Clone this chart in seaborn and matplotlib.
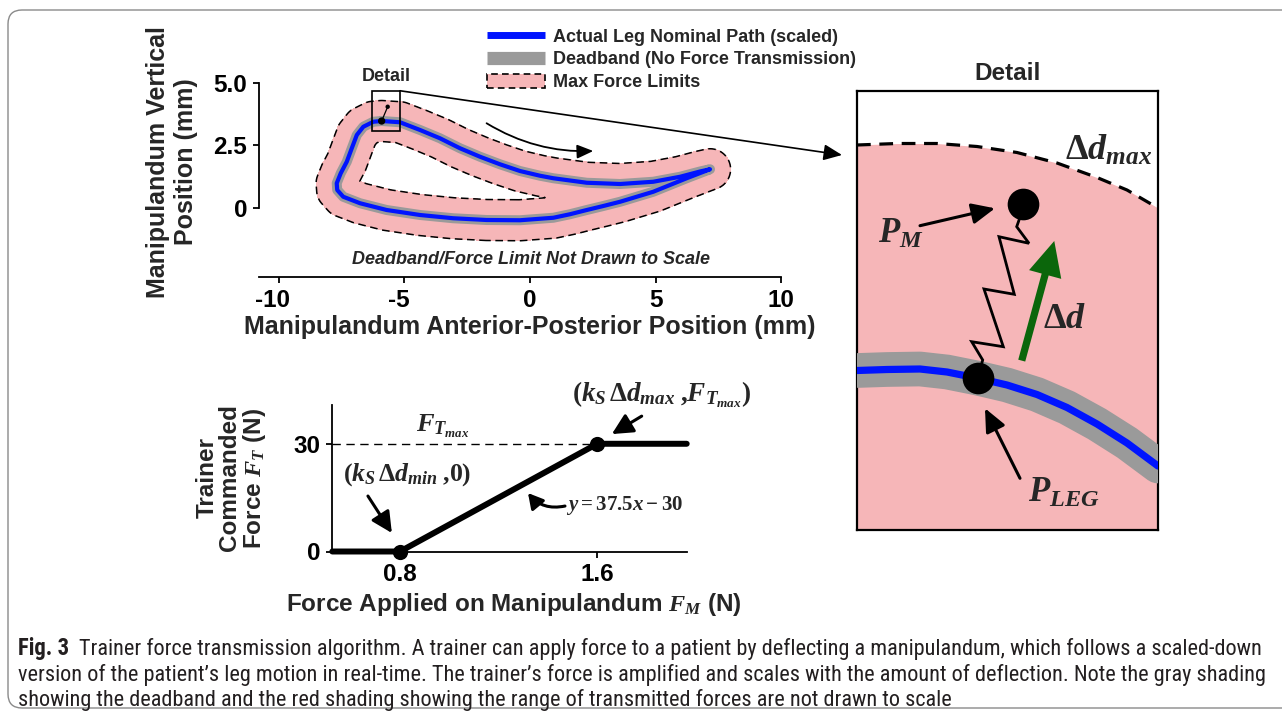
import numpy as np
import matplotlib
matplotlib.use("Agg")
import matplotlib.pyplot as plt
import matplotlib.font_manager as fm
import matplotlib.transforms as mtransforms
from matplotlib.patches import Patch, Rectangle, FancyBboxPatch, FancyArrowPatch
from matplotlib.lines import Line2D
import seaborn as sns

# ---------------- data ----------------
# nominal leg path (mm), traversed clockwise
path_x = [-5.91, -5.18, -4.38, -3.59, -2.79, -1.99, -1.20, -0.40, 0.40, 0.93, 2.26, 3.59, 4.91, 5.98, 6.77, 7.17,
          6.24, 4.91, 3.59, 2.92, 2.26, 1.59, 0.93, -0.40, -1.73, -3.06, -4.38, -5.71, -6.77, -7.44, -7.68, -7.70,
          -7.54, -7.30, -7.10, -6.90, -6.64, -6.24]
path_y = [3.48, 3.43, 3.12, 2.79, 2.39, 2.05, 1.75, 1.48, 1.29, 1.19, 1.01, 0.96, 1.05, 1.25, 1.46, 1.55,
          1.19, 0.65, 0.25, 0.08, -0.08, -0.25, -0.39, -0.49, -0.48, -0.41, -0.28, -0.08, 0.19, 0.45, 0.72, 0.99,
          1.39, 1.85, 2.39, 2.92, 3.25, 3.45]
force_limit_mm = 0.82                      # drawn half-width of the max-force band
detail_box_x = [-6.31, -5.18]
detail_box_y = [3.09, 4.69]
mini_spring_x = [-5.91, -5.67]
mini_spring_y = [3.48, 4.05]
direction_x = [-1.73, 2.52]
direction_y = [3.39, 2.28]
top_xticks = [-10, -5, 0, 5, 10]
top_xticklabels = ["-10", "-5", "0", "5", "10"]
top_yticks = [0, 2.5, 5.0]
top_yticklabels = ["0", "2.5", "5.0"]
legend_labels = ["Actual Leg Nominal Path (scaled)", "Deadband (No Force Transmission)", "Max Force Limits"]

# force transmission curve
force_applied = [0.5255, 0.8, 1.6, 1.9625]
force_commanded = [0, 0, 30, 30]
knee_x = [0.8, 1.6]
knee_y = [0, 30]
ft_max = 30
bot_xticks = [0.8, 1.6]
bot_xticklabels = ["0.8", "1.6"]
bot_yticks = [0, 30]
bot_yticklabels = ["0", "30"]

# detail schematic (panel units: 0..301 wide, 0..439 tall, y downward)
det_limit_x = [0, 40, 80, 120, 160, 200, 240, 270, 301]
det_limit_y = [54, 52.5, 52.5, 55.5, 61.5, 72, 86.5, 99, 117]
det_path_x = [0, 30, 63, 90, 120, 150, 180, 210, 240, 270, 301]
det_path_y = [279.5, 278.5, 278, 281, 287, 294, 303.5, 316.5, 333, 352, 375]
det_pleg = (120.7, 286.7)
det_pm = (165.7, 113)
spring_x = [162.3, 159.7, 172, 142, 157.3, 127, 146.3, 114.7, 125.7, 120.7]
spring_y = [128.3, 135.7, 152.3, 145.7, 203.3, 198, 255.7, 250.7, 269, 286.7]
delta_d_tail = (164, 272.3)
delta_d_tip = (198, 147.3)

caption_lines = [
    "Trainer force transmission algorithm. A trainer can apply force to a patient by deflecting a manipulandum, which follows a scaled-down",
    "version of the patient\u2019s leg motion in real-time. The trainer\u2019s force is amplified and scales with the amount of deflection. Note the gray shading",
    "showing the deadband and the red shading showing the range of transmitted forces are not drawn to scale",
]

# ---------------- style ----------------
sns.set_theme(style="white")
plt.rcParams["font.family"] = ["Liberation Sans", "DejaVu Sans"]
plt.rcParams["font.weight"] = "bold"
plt.rcParams["axes.unicode_minus"] = False
plt.rcParams["mathtext.fontset"] = "custom"
plt.rcParams["mathtext.rm"] = "Liberation Serif:bold"
plt.rcParams["mathtext.it"] = "Liberation Serif:italic:bold"
plt.rcParams["mathtext.bf"] = "Liberation Serif:bold"

PINK = "#f6b6b8"
GRAY = "#9a9a9a"
BLUE = "#0014ff"
GREEN = "#0b660b"

W, H = 1282, 717
fig = plt.figure(figsize=(W / 100, H / 100), dpi=100)
fig.patch.set_facecolor("white")


def box(l, t, r, b):
    return [l / W, 1 - b / H, (r - l) / W, (b - t) / H]


# figure frame
frame = FancyBboxPatch((8, 9), 1292, 698, boxstyle="round,pad=0,rounding_size=14",
                       transform=mtransforms.IdentityTransform(), fill=False,
                       edgecolor="#8a8a8a", lw=1.0)
fig.add_artist(frame)

# ================= top panel =================
ax = fig.add_axes(box(258.9, 63, 793.6, 277))
ax.set_xlim(-10.8, 10.5)
ax.set_ylim(-2.76, 5.8)
ax.patch.set_alpha(0)

cx = np.array(path_x + [path_x[0]])
cy = np.array(path_y + [path_y[0]])
gx = np.linspace(-10.8, 10.5, 700)
gy = np.linspace(-2.76, 5.8, 300)
GX, GY = np.meshgrid(gx, gy)
D = np.full(GX.shape, np.inf)
for i in range(len(cx) - 1):
    x0, y0, x1, y1 = cx[i], cy[i], cx[i + 1], cy[i + 1]
    ddx, ddy = x1 - x0, y1 - y0
    t = np.clip(((GX - x0) * ddx + (GY - y0) * ddy) / (ddx * ddx + ddy * ddy), 0, 1)
    D = np.minimum(D, np.hypot(GX - (x0 + t * ddx), GY - (y0 + t * ddy)))
ax.contourf(GX, GY, D, levels=[-1, force_limit_mm], colors=[PINK], zorder=1)
cs = ax.contour(GX, GY, D, levels=[force_limit_mm], colors="black", linewidths=1.1, zorder=2)
cs.set_linestyle((0, (5, 3)))

sns.lineplot(x=cx, y=cy, sort=False, estimator=None, color=GRAY, lw=7.2, ax=ax, zorder=3, legend=False)
sns.lineplot(x=cx, y=cy, sort=False, estimator=None, color=BLUE, lw=3.0, ax=ax, zorder=4, legend=False)
for ln in ax.lines:
    ln.set_solid_joinstyle("round")
    ln.set_solid_capstyle("round")

# detail marker
ax.add_patch(Rectangle((detail_box_x[0], detail_box_y[0]), detail_box_x[1] - detail_box_x[0],
                       detail_box_y[1] - detail_box_y[0], fill=False, ec="black", lw=1.2, zorder=6))
ax.plot(mini_spring_x, mini_spring_y, color="black", lw=0.9, zorder=6)
sns.scatterplot(x=mini_spring_x, y=mini_spring_y, size=[2, 1], sizes=(10, 28),
                color="black", ax=ax, zorder=7, legend=False, linewidth=0)
ax.text(np.mean(detail_box_x), 5.25, "Detail", ha="center", va="center", fontsize=13, fontweight="bold")
ax.annotate("", xy=(842, H - 155), xycoords="figure pixels",
            xytext=(detail_box_x[1], detail_box_y[1]), textcoords="data",
            arrowprops=dict(arrowstyle="-|>,head_length=0.8,head_width=0.35", color="black", lw=1.2,
                            shrinkA=0, shrinkB=0, mutation_scale=14),
            annotation_clip=False)
ax.annotate("", xy=(direction_x[1], direction_y[1]), xytext=(direction_x[0], direction_y[0]),
            arrowprops=dict(arrowstyle="-|>,head_length=0.7,head_width=0.3", color="black", lw=1.3,
                            connectionstyle="arc3,rad=0.15", shrinkA=0, shrinkB=0, mutation_scale=14))
ax.text(0.04, -2.08, "Deadband/Force Limit Not Drawn to Scale", ha="center", va="center",
        fontsize=13, fontweight="bold", fontstyle="italic")

for s in ["top", "right"]:
    ax.spines[s].set_visible(False)
for s in ["left", "bottom"]:
    ax.spines[s].set_color("black")
    ax.spines[s].set_linewidth(1.3)
ax.spines["left"].set_bounds(0, 5)
ax.spines["bottom"].set_bounds(-10.8, 10)
ax.set_xticks(top_xticks)
ax.set_xticklabels(top_xticklabels)
ax.set_yticks(top_yticks)
ax.set_yticklabels(top_yticklabels)
ax.tick_params(axis="both", which="both", direction="out", length=4.5, width=1.3, color="black",
               labelsize=17.5, pad=4, bottom=True, left=True, labelcolor="black")
# centre the digits (not the hyphen) of negative labels under their ticks
shift = mtransforms.ScaledTranslation(-6 / 100, 0, fig.dpi_scale_trans)
for lab in ax.get_xticklabels():
    if lab.get_text().startswith("-"):
        lab.set_transform(lab.get_transform() + shift)
ax.set_xlabel("Manipulandum Anterior-Posterior Position (mm)", fontsize=18, fontweight="bold", va="center")
ax.xaxis.set_label_coords((530 - 258.9) / 534.7, (277 - 327) / 214)
ax.set_ylabel("Manipulandum Vertical\nPosition (mm)", fontsize=18, fontweight="bold", va="center",
              multialignment="center")
ax.yaxis.set_label_coords((172 - 258.9) / 534.7, (277 - 162) / 214)

handles = [Line2D([0], [0], color=BLUE, lw=5, solid_capstyle="butt"),
           Line2D([0], [0], color=GRAY, lw=9.5, solid_capstyle="butt"),
           Patch(facecolor=PINK, edgecolor="black", linestyle=(0, (4, 2.5)), lw=1.2)]
leg = ax.legend(handles, legend_labels, loc="upper left", bbox_to_anchor=(487 / W, 1 - 28 / H),
                bbox_transform=fig.transFigure, frameon=False, handlelength=3.2,
                handleheight=0.88, handletextpad=0.45, labelspacing=0.29, borderpad=0, borderaxespad=0,
                prop={"weight": "bold", "size": 13})

# ================= bottom panel =================
bx = fig.add_axes(box(332.3, 405, 686.7, 551.5))
bx.set_xlim(0.5255, 1.9625)
bx.set_ylim(0, 40.8)
bx.patch.set_alpha(0)
bx.plot([force_applied[0], knee_x[1]], [ft_max, ft_max], color="black", lw=1.0, dashes=(6, 4), zorder=2)
sns.lineplot(x=force_applied, y=force_commanded, sort=False, estimator=None, color="black", lw=4.3,
             ax=bx, zorder=3, legend=False)
bx.lines[-1].set_clip_on(False)
sns.scatterplot(x=knee_x, y=knee_y, s=120, color="black", ax=bx, zorder=4, legend=False, linewidth=0,
                clip_on=False)
for s in ["top", "right"]:
    bx.spines[s].set_visible(False)
for s in ["left", "bottom"]:
    bx.spines[s].set_color("black")
    bx.spines[s].set_linewidth(1.3)
bx.set_xticks(bot_xticks)
bx.set_xticklabels(bot_xticklabels)
bx.set_yticks(bot_yticks)
bx.set_yticklabels(bot_yticklabels)
bx.tick_params(axis="both", direction="out", length=4.5, width=1.3, color="black", labelsize=17.5,
               pad=4, bottom=True, left=True, labelcolor="black")
bx.set_xlabel("Force Applied on Manipulandum $F_M$ (N)", fontsize=17.5, fontweight="bold", va="center")
bx.xaxis.set_label_coords((514 - 332.3) / 354.4, (551.5 - 605) / 146.5)
bx.set_ylabel("Trainer\nCommanded\nForce $F_T$ (N)", fontsize=17.5, fontweight="bold", va="center",
              multialignment="center", linespacing=1.0)
bx.yaxis.set_label_coords((232 - 332.3) / 354.4, (551.5 - 478) / 146.5)

bx.text(0.974, 34.8, r"$F_{T_{max}}$", ha="center", va="center", fontsize=19)
bx.text(0.828, 21.3, r"$(k_S\,\Delta d_{min}\;{,}0)$", ha="center", va="center", fontsize=18.5)
bx.text(1.862, 43.6, r"$(k_S\,\Delta d_{max}\;{,}F_{T_{max}})$", ha="center", va="center", fontsize=19.5,
        clip_on=False)
bx.text(1.712, 12.94, r"$y = 37.5x - 30$", ha="center", va="center", fontsize=15)
arrow_kw = dict(arrowstyle="-|>,head_length=0.9,head_width=0.45", color="black", lw=2.2,
                shrinkA=0, shrinkB=0, mutation_scale=14)
bx.annotate("", xy=(0.767, 5.15), xytext=(0.670, 15.45), arrowprops=arrow_kw, annotation_clip=False)
bx.annotate("", xy=(1.659, 32.7), xytext=(1.780, 37.7), arrowprops=arrow_kw, annotation_clip=False)
bx.annotate("", xy=(1.319, 16.28), xytext=(1.469, 12.66),
            arrowprops=dict(arrowstyle="-|>,head_length=0.9,head_width=0.5", color="black", lw=2.2,
                            shrinkA=0, shrinkB=0, mutation_scale=10, connectionstyle="arc3,rad=-0.3"),
            annotation_clip=False)

# ================= detail panel =================
dp = fig.add_axes(box(857, 91, 1158, 530))
dp.set_xlim(0, 301)
dp.set_ylim(439, 0)
dp.set_xticks([])
dp.set_yticks([])
for s in dp.spines.values():
    s.set_visible(True)
    s.set_color("black")
    s.set_linewidth(1.6)
dp.fill_between(det_limit_x, det_limit_y, 439, color=PINK, lw=0, zorder=1)
dp.plot(det_limit_x, det_limit_y, color="black", lw=2.3, dashes=(4.3, 2.7), zorder=2)
sns.lineplot(x=det_path_x, y=det_path_y, sort=False, estimator=None, color=GRAY, lw=25, ax=dp,
             zorder=3, legend=False)
sns.lineplot(x=det_path_x, y=det_path_y, sort=False, estimator=None, color=BLUE, lw=5.2, ax=dp,
             zorder=4, legend=False)
for ln in dp.lines[-2:]:
    ln.set_solid_joinstyle("round")
dp.plot(spring_x, spring_y, color="black", lw=2.0, zorder=5, solid_joinstyle="miter")
sns.scatterplot(x=[det_pleg[0], det_pm[0]], y=[det_pleg[1], det_pm[1]], s=520, color="black",
                ax=dp, zorder=6, legend=False, linewidth=0)
green = FancyArrowPatch(delta_d_tail, delta_d_tip,
                        arrowstyle="simple,head_length=1.25,head_width=1.2,tail_width=0.26",
                        mutation_scale=20, color=GREEN, lw=0, zorder=5)
dp.add_patch(green)
dp.text(208, 228, r"$\Delta d$", ha="center", va="center", fontsize=26)
dp.text(208, 69, r"$\Delta d_{max}$", ha="left", va="baseline", fontsize=26)
dp.text(21, 152, r"$P_M$", ha="left", va="baseline", fontsize=25)
dp.text(171, 411, r"$P_{LEG}$", ha="left", va="baseline", fontsize=25)
arrow_kw2 = dict(arrowstyle="-|>,head_length=1.0,head_width=0.45", color="black", lw=2.2,
                 shrinkA=0, shrinkB=0, mutation_scale=14)
dp.annotate("", xy=(138, 117.3), xytext=(63, 134.7), arrowprops=arrow_kw2)
dp.annotate("", xy=(128, 317.3), xytext=(163, 387.3), arrowprops=arrow_kw2)
dp.set_title("Detail", fontsize=17.5, fontweight="bold", pad=8)

# ================= caption =================
names = {f.name for f in fm.fontManager.ttflist}
cap_family, cap_stretch = "DejaVu Sans", "condensed"
for cand in ["Liberation Sans Narrow", "Roboto Condensed", "Open Sans Condensed"]:
    if cand in names:
        cap_family, cap_stretch = cand, "normal"
        break
CAPC = "#231f20"
renderer = fig.canvas.get_renderer()
cap_kw = dict(family=cap_family, fontstretch=cap_stretch, color=CAPC, va="baseline", ha="left")
probe1 = fig.text(72 / W, 1 - 655 / H, caption_lines[0], fontsize=10, fontweight="normal", **cap_kw)
probe2 = fig.text(18 / W, 1 - 681 / H, caption_lines[1], fontsize=10, fontweight="normal", **cap_kw)
s1 = 10 * (1262 - 72) / probe1.get_window_extent(renderer).width
s2 = 10 * (1253 - 18) / probe2.get_window_extent(renderer).width
cap_size = min(s1, s2)
probe1.set_fontsize(cap_size)
probe2.set_fontsize(cap_size)
fig.text(18 / W, 1 - 706 / H, caption_lines[2], fontsize=cap_size, fontweight="normal", **cap_kw)
figlab = fig.text(18 / W, 1 - 655 / H, "Fig. 3", fontsize=cap_size * 1.02, fontweight="bold", **cap_kw)
fl_w = figlab.get_window_extent(renderer).width
probe1.set_x((18 + fl_w + 10) / W)

fig.savefig("out.png", dpi=100)
